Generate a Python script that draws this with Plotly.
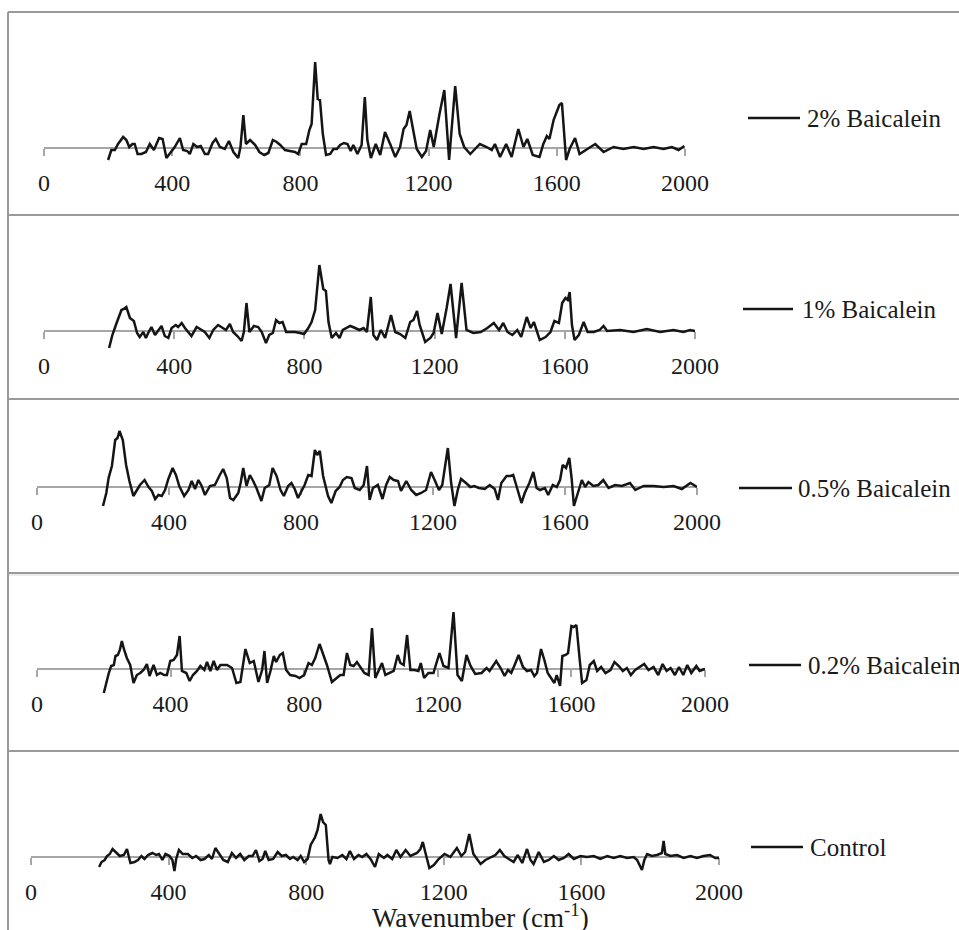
import plotly.graph_objects as go

W, H = 959, 930

# ---------------- data ----------------
series_names = ["2% Baicalein", "1% Baicalein", "0.5% Baicalein", "0.2% Baicalein", "Control"]
tick_vals = [0, 400, 800, 1200, 1600, 2000]
tick_text = ["0", "400", "800", "1200", "1600", "2000"]
x_title = "Wavenumber (cm<sup>-1</sup>)"

wn_2pct = [200, 210, 221, 231, 247, 257, 266, 276, 283, 292, 304, 318, 330, 343, 359, 370, 382, 395, 408, 424,
           434, 447, 455, 466, 478, 489, 502, 512, 526, 536, 549, 564, 577, 591, 606, 613, 622, 630, 643, 659,
           672, 687, 700, 714, 726, 737, 752, 767, 783, 793, 804, 818, 828, 835, 846, 854, 861, 870, 880, 893,
           903, 914, 924, 936, 947, 957, 965, 978, 991, 1001, 1009, 1020, 1035, 1049, 1064, 1080, 1096, 1111,
           1122, 1131, 1141, 1153, 1163, 1179, 1192, 1205, 1216, 1234, 1249, 1264, 1283, 1297, 1311, 1330,
           1354, 1360, 1381, 1397, 1407, 1423, 1442, 1459, 1480, 1496, 1508, 1525, 1546, 1558, 1569, 1577,
           1590, 1602, 1608, 1616, 1621, 1629, 1640, 1657, 1671, 1694, 1720, 1746, 1777, 1808, 1840, 1871,
           1902, 1933, 1959, 1980, 1998]
int_2pct = [-12, -2, -2, 4, 11, 8, 1, 4, 4, -6, -6, -4, 4, -2, 10, 9, -10, -4, 1, 10,
            -2, -3, -6, 4, 1, 2, -6, -6, 5, 9, 1, -1, 7, -4, -10, 1, 33, 4, 8, 3,
            -4, -7, -5, 8, 6, 3, -2, -3, -4, -6, 4, 4, 18, 24, 86, 49, 48, 14, -7, -6,
            -1, -1, 3, 5, 4, -3, 3, -6, 3, 51, 8, -10, 4, -7, 16, 4, -9, 1,
            19, 23, 37, 16, -1, -9, -3, 18, 1, 34, 58, -12, 62, 14, 1, -6,
            2, 4, 1, -2, 4, -9, 4, -9, 19, 1, 9, -7, -9, 4, 12, 9,
            28, 39, 43, 45, 19, -12, -1, 10, -6, -1, 4, -4, 1, -1, 1, -1,
            1, -1, 1, -2, 2]

wn_1pct = [200, 210, 223, 238, 245, 253, 264, 276, 286, 294, 305, 313, 320, 330, 341, 351, 361, 371, 382, 392,
           405, 412, 423, 433, 443, 453, 469, 484, 494, 508, 520, 535, 549, 559, 571, 581, 594, 607, 614, 622,
           631, 645, 658, 669, 682, 692, 703, 713, 723, 733, 744, 756, 771, 787, 799, 812, 822, 833, 846, 858,
           866, 874, 884, 897, 908, 918, 928, 941, 956, 969, 982, 992, 1004, 1012, 1023, 1035, 1048, 1066,
           1079, 1094, 1110, 1125, 1135, 1146, 1154, 1171, 1187, 1197, 1209, 1222, 1237, 1249, 1266, 1283,
           1298, 1319, 1342, 1362, 1382, 1398, 1411, 1424, 1439, 1454, 1466, 1483, 1495, 1505, 1523, 1541,
           1556, 1568, 1582, 1592, 1602, 1609, 1615, 1622, 1630, 1643, 1658, 1670, 1689, 1707, 1719, 1730,
           1770, 1811, 1852, 1893, 1934, 1964, 1985, 2000]
int_1pct = [-17, -4, 8, 21, 22, 24, 13, 10, -2, -6, -1, -7, -2, 4, -4, 0, 5, -5, -7, 3,
            6, 4, 8, 3, -1, -5, 4, 1, -1, -7, 1, 6, 3, 1, 7, -1, -5, -10, -1, 28,
            -1, 5, 4, -1, -12, -4, -2, 11, 8, 9, -1, -1, -1, -2, -3, 3, 9, 21, 66, 42,
            40, 9, -7, -2, -7, 1, 3, 5, 3, 1, 3, -1, 34, -4, -9, 1, -7, 16,
            -1, -3, -7, 9, 11, 20, 6, -11, -7, -2, 18, -3, 23, 47, -7, 48,
            1, -2, -1, 3, 8, 1, 8, -1, -4, 1, -6, 14, 3, 9, -9, -6,
            -1, 10, 8, 28, 33, 31, 39, 6, -9, -4, 9, -1, -1, 1, 5, 0,
            1, -1, 2, -1, 1, -1, 1, 0]

wn_05pct = [200, 210, 217, 227, 237, 244, 250, 260, 270, 280, 292, 302, 312, 326, 338, 348, 358, 368, 378, 388,
            398, 411, 421, 431, 446, 459, 469, 479, 489, 499, 509, 524, 539, 554, 564, 575, 585, 595, 610, 617,
            625, 635, 645, 655, 665, 680, 690, 704, 714, 726, 738, 748, 761, 771, 781, 791, 801, 811, 822, 832,
            842, 849, 857, 867, 882, 892, 905, 917, 927, 939, 953, 963, 978, 990, 1000, 1008, 1018, 1033, 1047,
            1058, 1069, 1081, 1094, 1103, 1119, 1134, 1149, 1164, 1179, 1194, 1205, 1218, 1228, 1245, 1255,
            1265, 1275, 1285, 1300, 1313, 1325, 1339, 1357, 1372, 1387, 1397, 1407, 1423, 1435, 1443, 1453,
            1468, 1478, 1492, 1504, 1514, 1524, 1539, 1549, 1563, 1575, 1585, 1593, 1603, 1613, 1620, 1627,
            1637, 1651, 1661, 1671, 1686, 1701, 1716, 1732, 1752, 1772, 1797, 1813, 1838, 1868, 1899, 1929,
            1954, 1980, 2000]
int_05pct = [-19, -6, 9, 21, 47, 49, 56, 47, 22, 6, -9, -3, 2, 7, 0, -4, -12, -8, -9, -3,
             8, 19, 12, 1, -9, -3, 6, -2, 7, 1, -8, 1, 2, 12, 18, 9, -11, -13, -6, 4,
             19, 1, 12, 6, -1, -14, -1, 2, 19, 11, -3, -9, 1, 4, -2, -11, -4, 2, 12, 11,
             37, 32, 36, 11, -9, -16, -4, 0, 7, 10, 9, -1, -3, 2, 21, -13, -1, 2, -12,
             2, 10, 7, 6, -4, 6, -3, -8, -6, -3, 15, 7, -3, 2, 39, 4,
             -19, -3, 8, 4, 0, 1, -1, -2, 2, -2, -13, 4, 11, 11, 12, 1,
             -16, -6, 4, 15, -1, -3, -1, -8, 2, 0, 7, 22, 19, 29, 9, -19,
             -9, 7, 0, 5, 1, 2, 7, -1, 2, 1, 4, -3, 1, 1, 0, 1,
             -2, 4, 0]

wn_02pct = [200, 208, 215, 222, 230, 235, 242, 248, 254, 261, 269, 279, 289, 299, 309, 319, 329, 337, 349, 359,
            369, 381, 389, 399, 409, 419, 427, 434, 447, 457, 467, 479, 489, 501, 509, 519, 529, 539, 549, 569,
            584, 597, 609, 624, 637, 649, 663, 674, 681, 689, 699, 709, 716, 727, 736, 746, 758, 774, 786, 800,
            813, 823, 833, 846, 858, 868, 883, 896, 908, 918, 928, 938, 948, 958, 968, 980, 993, 1003, 1013,
            1023, 1033, 1043, 1056, 1068, 1080, 1088, 1098, 1108, 1118, 1130, 1142, 1149, 1159, 1172, 1187,
            1205, 1217, 1232, 1247, 1259, 1272, 1286, 1298, 1312, 1331, 1346, 1355, 1365, 1375, 1388, 1400,
            1410, 1420, 1430, 1442, 1455, 1467, 1479, 1489, 1497, 1509, 1519, 1529, 1539, 1549, 1556, 1566,
            1573, 1583, 1590, 1600, 1607, 1615, 1625, 1632, 1645, 1655, 1667, 1677, 1689, 1702, 1717, 1729,
            1742, 1754, 1766, 1778, 1791, 1804, 1818, 1831, 1846, 1860, 1873, 1885, 1897, 1910, 1922, 1935,
            1947, 1959, 1974, 1984, 2000]
int_02pct = [-24, -12, -4, 3, 4, 13, 14, 19, 28, 19, 11, 4, -14, -6, -4, -1, 5, -7, 4, -6,
             -4, -6, -6, 8, 9, 14, 33, -2, -4, -12, -6, -2, 3, -1, 7, -2, 8, -1, 4, 4,
             1, -14, -13, 20, 6, 8, -13, -1, 18, -14, -2, 13, 7, 14, 16, -1, -6, -7, -9, -6,
             6, 4, 11, 25, 14, 4, -13, -9, -6, -6, 16, 4, 3, 7, 2, -4, -6, 41, -9,
             -1, 6, -6, -4, -2, 14, 6, 4, 34, -1, -1, -2, 6, -9, -4, -4,
             16, 3, 1, 57, -6, -12, 14, 3, -5, -4, 1, -2, 3, 8, 1, -7,
             -1, -4, 4, 14, 2, -2, -1, -7, -4, 20, 9, -4, -9, -14, -6, -17,
             13, 14, 16, 43, 42, 44, 9, -14, -11, 4, 8, -2, 2, -4, -1, 7,
             3, -2, 1, -6, -1, 2, 5, -1, 2, -6, 5, -2, 1, -6, 2, -6,
             4, -4, 3, -2, 0]

wn_ctrl = [198, 205, 214, 221, 229, 237, 246, 258, 270, 279, 289, 301, 311, 321, 330, 340, 353, 364, 372, 382,
           391, 403, 411, 417, 422, 430, 441, 456, 469, 480, 493, 504, 517, 526, 536, 548, 559, 572, 584, 596,
           608, 620, 633, 644, 654, 664, 673, 681, 691, 704, 717, 729, 741, 753, 762, 775, 784, 794, 804, 813,
           826, 833, 842, 849, 857, 865, 869, 876, 891, 905, 917, 927, 939, 952, 963, 975, 987, 1000, 1011,
           1026, 1036, 1050, 1062, 1074, 1089, 1103, 1122, 1132, 1139, 1146, 1158, 1171, 1185, 1202, 1219,
           1238, 1251, 1262, 1274, 1286, 1299, 1307, 1321, 1336, 1350, 1363, 1376, 1389, 1403, 1415, 1428,
           1442, 1452, 1461, 1476, 1491, 1505, 1520, 1534, 1549, 1563, 1578, 1597, 1616, 1636, 1655, 1675,
           1694, 1713, 1733, 1752, 1762, 1769, 1776, 1783, 1791, 1805, 1820, 1834, 1839, 1844, 1859, 1878,
           1897, 1917, 1936, 1955, 1974, 1989, 2000]
int_ctrl = [-10, -5, -3, 1, 3, 8, 5, 1, 2, 8, -6, -5, -3, 1, -2, 2, 4, 2, 3, -3,
            3, 1, -3, -14, -2, 7, 3, 3, -1, 1, -3, -2, 2, -2, 9, 2, -3, -5, 4, -1,
            3, -3, 1, 1, 7, -4, -2, 6, -3, -2, 5, 1, 2, -2, 0, -3, 1, -5, -2, 12,
            20, 27, 43, 35, 32, -3, -7, 0, -1, 2, -2, 6, -2, 2, 0, 3, -2, -10, 3,
            -1, 2, -2, 7, 0, 7, 1, 4, 8, 15, 5, -11, -8, -2, 3, 0,
            9, 1, 5, 23, 3, -3, -7, -3, 0, 2, 7, 1, -2, -5, 2, -6,
            8, -3, -7, 5, -5, -3, 1, -3, -1, 3, -2, 1, 0, 1, -2, 1,
            -1, 1, -1, 0, -3, -8, -13, -3, 3, 1, 2, 4, 16, 3, 1, 2,
            -1, 1, -1, 1, 2, -1, -1]

series_wn = [wn_2pct, wn_1pct, wn_05pct, wn_02pct, wn_ctrl]
series_int = [int_2pct, int_1pct, int_05pct, int_02pct, int_ctrl]

# ---------------- layout (pixel geometry of each stacked panel) ----------------
panels = [
    dict(top=12, bottom=215, axis=148, x0=44, x1=685, lx0=748, lx1=800, ly=118, tx=805),
    dict(top=215, bottom=399, axis=331, x0=44, x1=695, lx0=743, lx1=793, ly=309, tx=800),
    dict(top=399, bottom=573, axis=487, x0=37, x1=697, lx0=739, lx1=792, ly=488, tx=796),
    dict(top=575, bottom=751, axis=669, x0=37, x1=705, lx0=749, lx1=801, ly=665, tx=806),
    dict(top=751, bottom=930, axis=857, x0=31, x1=719, lx0=751, lx1=803, ly=847, tx=808),
]
border_colors = ["#9a9a9a", "#9a9a9a", "#9a9a9a", "#ececec", "#9a9a9a"]

FONT = "Liberation Serif"
AXIS_GRAY = "#a6a6a6"
LINE_BLACK = "#151515"


def px(x):
    return x / W


def py(y):
    return 1 - y / H


fig = go.Figure()
layout = dict(
    template="none",
    width=W, height=H, autosize=False,
    margin=dict(l=0, r=0, t=0, b=0, pad=0, autoexpand=False),
    paper_bgcolor="white", plot_bgcolor="rgba(0,0,0,0)",
    showlegend=False,
    font=dict(family=FONT, size=24, color="#1a1a1a"),
)
shapes = []
annotations = []

for i, (p, name) in enumerate(zip(panels, series_names)):
    k = "" if i == 0 else str(i + 1)
    fig.add_trace(go.Scatter(
        x=series_wn[i], y=series_int[i], mode="lines", name=name,
        line=dict(color=LINE_BLACK, width=2.5),
        xaxis="x" + k, yaxis="y" + k, hoverinfo="x+y",
    ))
    layout["xaxis" + k] = dict(
        domain=[px(p["x0"]), px(p["x1"])], range=[0, 2000],
        anchor="free", position=py(p["axis"]), automargin=False,
        tickmode="array", tickvals=tick_vals, ticktext=tick_text,
        ticks="outside", ticklen=7, tickwidth=1.5, tickcolor=AXIS_GRAY,
        showline=True, linecolor=AXIS_GRAY, linewidth=2, mirror=False,
        showgrid=False, zeroline=False, layer="below traces",
        tickfont=dict(family=FONT, size=24, color="#1a1a1a"),
        ticklabelstandoff=6, fixedrange=True,
    )
    layout["yaxis" + k] = dict(
        domain=[py(p["bottom"]), py(p["top"])],
        range=[-(p["bottom"] - p["axis"]), p["axis"] - p["top"]],
        visible=False, anchor="x" + k, fixedrange=True, automargin=False,
        showgrid=False, zeroline=False,
    )
    # panel top border
    shapes.append(dict(type="line", xref="paper", yref="paper",
                       x0=px(8), x1=1, y0=py(p["top"]), y1=py(p["top"]),
                       line=dict(color=border_colors[i], width=2)))
    # legend entry
    shapes.append(dict(type="line", xref="paper", yref="paper",
                       x0=px(p["lx0"]), x1=px(p["lx1"]), y0=py(p["ly"]), y1=py(p["ly"]),
                       line=dict(color=LINE_BLACK, width=2.5)))
    annotations.append(dict(text=name, xref="paper", yref="paper",
                            x=px(p["tx"]), y=py(p["ly"]), xanchor="left", yanchor="middle",
                            showarrow=False, font=dict(family=FONT, size=25, color="#1a1a1a")))

# left border
shapes.append(dict(type="line", xref="paper", yref="paper",
                   x0=px(8), x1=px(8), y0=py(12), y1=0,
                   line=dict(color="#9a9a9a", width=2)))
# bottom border of panel 3
shapes.append(dict(type="line", xref="paper", yref="paper",
                   x0=px(8), x1=1, y0=py(573), y1=py(573),
                   line=dict(color="#9a9a9a", width=2)))

annotations.append(dict(text=x_title, xref="paper", yref="paper",
                        x=px(480), y=py(916), xanchor="center", yanchor="middle",
                        showarrow=False, font=dict(family=FONT, size=27, color="#1a1a1a")))

layout["shapes"] = shapes
layout["annotations"] = annotations
fig.update_layout(**layout)
fig.write_html(
    "out.html",
    config={"responsive": False, "displayModeBar": False},
    post_script="document.body.style.margin='0';document.body.style.overflow='hidden';",
)
